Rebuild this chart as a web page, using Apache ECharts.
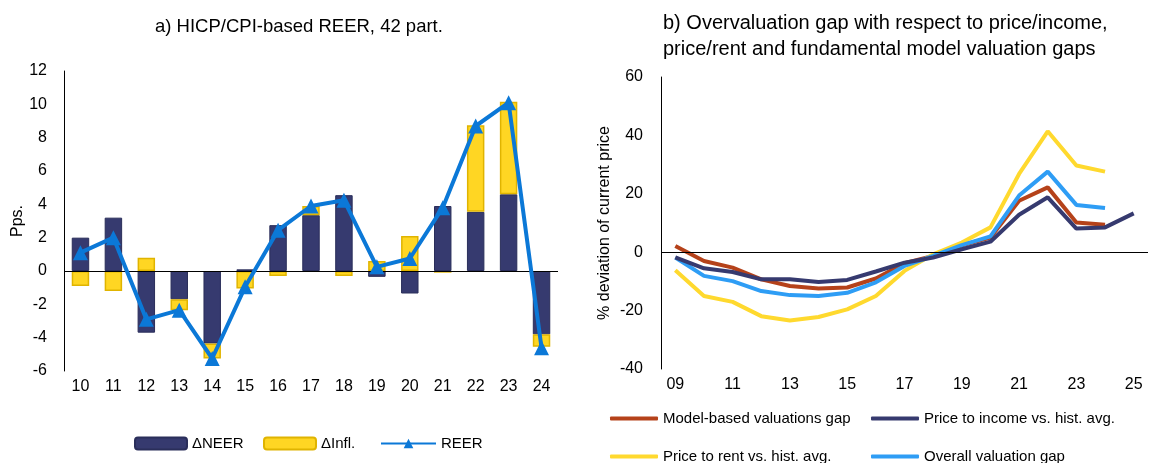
<!DOCTYPE html>
<html>
<head>
<meta charset="utf-8">
<script src="https://cdn.jsdelivr.net/npm/echarts@6/dist/echarts.min.js"></script>
<style>
html,body{margin:0;padding:0;background:#fff;}
#c{width:1165px;height:463px;}
</style>
</head>
<body>
<div id="c"></div>
<script>
// ---- data ----
const leftCats = ['10','11','12','13','14','15','16','17','18','19','20','21','22','23','24'];
const neer = [2.0, 3.2, -3.7, -1.7, -4.35, 0.1, 2.75, 3.35, 4.55, -0.35, -1.35, 3.9, 3.55, 4.6, -3.8];
const infl = [-0.9, -1.2, 0.8, -0.65, -0.9, -1.05, -0.3, 0.55, -0.3, 0.6, 2.1, -0.1, 5.2, 5.55, -0.75];
const reer = [1.1, 2.0, -2.9, -2.35, -5.25, -0.95, 2.45, 3.9, 4.25, 0.25, 0.75, 3.8, 8.7, 10.1, -4.6];

const years = ['09','10','11','12','13','14','15','16','17','18','19','20','21','22','23','24','25'];
const modelGap = [2.1, -3.0, -5.3, -9.3, -11.6, -12.4, -12.1, -9.0, -3.8, -1.3, 2.4, 5.0, 17.6, 22.2, 10.2, 9.4, null];
const incomeGap = [-1.8, -5.5, -6.8, -9.3, -9.3, -10.2, -9.5, -6.6, -3.6, -1.8, 1.0, 3.6, 12.8, 18.8, 8.1, 8.5, 13.3];
const rentGap = [-6.2, -15.0, -17.0, -21.9, -23.4, -22.2, -19.6, -15.0, -6.4, -0.7, 3.3, 8.5, 26.8, 41.4, 29.7, 27.6, null];
const overallGap = [-1.8, -8.1, -9.9, -13.3, -14.7, -15.0, -13.9, -10.3, -4.7, -1.3, 2.4, 5.4, 19.4, 27.6, 16.2, 15.1, null];

const FONT = "'Liberation Sans', Arial, sans-serif";
const C_NAVY = '#363a6f';
const C_YEL = '#ffd623';
const C_BLUE = '#0b78d7';
const C_RED = '#b5421a';
const C_LBLUE = '#2e9df5';
const C_RENT = '#ffd92e';

const chart = echarts.init(document.getElementById('c'), null, {renderer:'canvas'});

const zeroLine = {
  silent: true, symbol: ['none','none'], label:{show:false},
  lineStyle:{color:'#000', width:1, type:'solid'},
  data:[{yAxis:0}], animation:false
};

const txt = {fontFamily: FONT, fontSize: 15, color:'#000'};

const option = {
  animation: false,
  textStyle: {fontFamily: FONT},
  title: [
    {text:'a) HICP/CPI-based REER, 42 part.', left: 150, top: 12,
     textStyle:{fontFamily:FONT, fontSize:18.5, fontWeight:'normal', color:'#000'}},
    {text:'b) Overvaluation gap with respect to price/income,\nprice/rent and fundamental model valuation gaps', left: 658, top: 5,
     textStyle:{fontFamily:FONT, fontSize:20, fontWeight:'normal', color:'#000', lineHeight:26}}
  ],
  legend: [
    {left:129, top:431, itemWidth:52, itemHeight:12, data:['ΔNEER'], textStyle:txt},
    {left:258, top:431, itemWidth:52, itemHeight:12, data:['ΔInfl.'], textStyle:txt},
    {left:375, top:431, itemWidth:55, itemHeight:12, data:['REER'], textStyle:txt},
    {left:605, top:406, itemWidth:48, itemHeight:4, icon:'roundRect', data:['Model-based valuations gap'], textStyle:txt},
    {left:866, top:406, itemWidth:48, itemHeight:4, icon:'roundRect', data:['Price to income vs. hist. avg.'], textStyle:txt},
    {left:605, top:444, itemWidth:48, itemHeight:4, icon:'roundRect', data:['Price to rent vs. hist. avg.'], textStyle:txt},
    {left:866, top:444, itemWidth:48, itemHeight:4, icon:'roundRect', data:['Overall valuation gap'], textStyle:txt}
  ],
  grid: [
    {left:64, right:607, top:71, bottom:92},
    {left:661, right:17, top:77, bottom:94}
  ],
  xAxis: [
    {type:'category', gridIndex:0, data:leftCats,
     axisLine:{show:false, onZero:false}, axisTick:{show:false},
     axisLabel:{fontFamily:FONT, fontSize:16, color:'#000', margin:8}},
    {type:'category', gridIndex:1, data:years,
     axisLine:{show:false, onZero:false}, axisTick:{show:false},
     axisLabel:{fontFamily:FONT, fontSize:16, color:'#000', interval:1, margin:8}}
  ],
  yAxis: [
    {type:'value', gridIndex:0, min:-6, max:12, interval:2,
     name:'Pps.', nameLocation:'middle', nameGap:31,
     nameTextStyle:{fontFamily:FONT, fontSize:16, color:'#000'},
     axisLine:{show:true, lineStyle:{color:'#000', width:1}}, axisTick:{show:false},
     splitLine:{show:false},
     axisLabel:{fontFamily:FONT, fontSize:16, color:'#000', margin:17}},
    {type:'value', gridIndex:1, min:-40, max:60, interval:20,
     name:'% deviation of current price', nameLocation:'middle', nameGap:48,
     nameTextStyle:{fontFamily:FONT, fontSize:16, color:'#000'},
     axisLine:{show:true, lineStyle:{color:'#000', width:1}}, axisTick:{show:false},
     splitLine:{show:false},
     axisLabel:{fontFamily:FONT, fontSize:16, color:'#000', margin:18}}
  ],
  series: [
    {name:'ΔNEER', type:'bar', stack:'a', xAxisIndex:0, yAxisIndex:0, data:neer, barWidth:'53%',
     itemStyle:{color:C_NAVY, borderColor:'#2a2e5a', borderWidth:1},
     markLine: zeroLine},
    {name:'ΔInfl.', type:'bar', stack:'a', xAxisIndex:0, yAxisIndex:0, data:infl, barWidth:'53%',
     itemStyle:{color:C_YEL, borderColor:'#e0b400', borderWidth:1.5}},
    {name:'REER', type:'line', xAxisIndex:0, yAxisIndex:0, data:reer,
     symbol:'triangle', symbolSize:15, lineStyle:{color:C_BLUE, width:4},
     itemStyle:{color:C_BLUE}, z:5},
    {name:'Model-based valuations gap', type:'line', xAxisIndex:1, yAxisIndex:1, data:modelGap,
     symbol:'none', lineStyle:{color:C_RED, width:4}, itemStyle:{color:C_RED},
     markLine: zeroLine},
    {name:'Price to income vs. hist. avg.', type:'line', xAxisIndex:1, yAxisIndex:1, data:incomeGap,
     symbol:'none', lineStyle:{color:C_NAVY, width:4}, itemStyle:{color:C_NAVY}, z:4},
    {name:'Price to rent vs. hist. avg.', type:'line', xAxisIndex:1, yAxisIndex:1, data:rentGap,
     symbol:'none', lineStyle:{color:C_RENT, width:4}, itemStyle:{color:C_RENT}},
    {name:'Overall valuation gap', type:'line', xAxisIndex:1, yAxisIndex:1, data:overallGap,
     symbol:'none', lineStyle:{color:C_LBLUE, width:4}, itemStyle:{color:C_LBLUE}}
  ]
};
chart.setOption(option);
</script>
</body>
</html>
